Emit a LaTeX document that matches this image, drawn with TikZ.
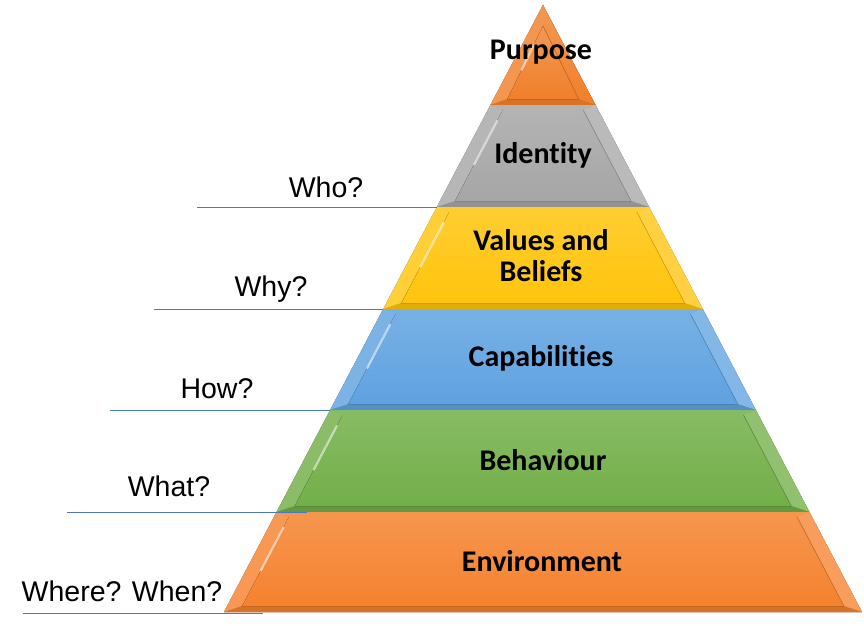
\documentclass[tikz,border=0pt]{standalone}
\usepackage{fontspec}
\setmainfont{Liberation Sans}
\newfontfamily\levelfont[Ligatures=NoCommon]{Carlito}
\usetikzlibrary{calc}
\definecolor{purposeorange}{HTML}{F07F2A}
\definecolor{identitygray}{HTML}{A6A6A6}
\definecolor{valuesyellow}{HTML}{FFC40C}
\definecolor{capblue}{HTML}{5FA2E0}
\definecolor{behavgreen}{HTML}{72AF48}
\definecolor{envorange}{HTML}{F5822E}
\definecolor{lineblue}{HTML}{4A78C2}

\begin{document}
\begin{tikzpicture}[
  x=1pt, y=-1pt,
  level/.style={font=\levelfont\bfseries\fontsize{30}{31}\selectfont, align=center},
  ask/.style={font=\fontsize{28.5}{30}\selectfont},
  guide/.style={draw=lineblue, line width=0.9pt},
  shine/.style={draw=white, line width=2pt, opacity=0.6, line cap=round},
]
\useasboundingbox (0,0) rectangle (864,625);
\def\slope{0.5255}

% apex: Purpose
\coordinate (apex) at (543,5);
\coordinate (L0) at ({543-\slope*100},105);
\coordinate (R0) at ({543+\slope*100},105);
\coordinate (pin) at (543,26);
\coordinate (pinL) at ({543-\slope*100+17},99);
\coordinate (pinR) at ({543+\slope*100-17},99);
\fill[top color=purposeorange!80!white, bottom color=purposeorange] (apex) -- (R0) -- (L0) -- cycle;
\fill[purposeorange!82!white] (apex) -- (L0) -- (pinL) -- (pin) -- cycle;
\fill[purposeorange!90!black] (L0) -- (R0) -- (pinR) -- (pinL) -- cycle;
\fill[top color=purposeorange!80!white, bottom color=purposeorange] (pin) -- (pinR) -- (pinL) -- cycle;
\draw[purposeorange!85!black, line width=0.6pt] (pin) -- (pinR);
\draw[shine] ($(pin)!0.25!(pinL)$) -- ($(pin)!0.6!(pinL)$);

% trapezoid layers, each with a bevel
\foreach \ya/\yb/\col [count=\i] in {105/207/identitygray, 207/309/valuesyellow,
    309/410/capblue, 410/512/behavgreen, 512/612/envorange}{
  \pgfmathsetmacro\wa{\slope*(\ya-5)}
  \pgfmathsetmacro\wb{\slope*(\yb-5)}
  \pgfmathsetmacro\ia{\slope*(\ya-5+5)-15}
  \pgfmathsetmacro\ib{\slope*(\yb-5-6)-15}
  \coordinate (L\i) at ({543-\wb},\yb);
  \coordinate (R\i) at ({543+\wb},\yb);
  \fill[top color=\col!85!white, bottom color=\col]
    ({543-\wa},\ya) -- ({543+\wa},\ya) -- (R\i) -- (L\i) -- cycle;
  % left, right, bottom bevel faces
  \fill[\col!82!white] ({543-\wa},\ya) -- (L\i) -- ({543-\ib},\yb-6) -- ({543-\ia},\ya+5) -- cycle;
  \fill[\col!78!white] ({543+\wa},\ya) -- ({543+\ia},\ya+5) -- ({543+\ib},\yb-6) -- (R\i) -- cycle;
  \fill[\col!88!black] (L\i) -- (R\i) -- ({543+\ib},\yb-6) -- ({543-\ib},\yb-6) -- cycle;
  \fill[top color=\col!85!white, bottom color=\col]
    ({543-\ia},\ya+5) -- ({543+\ia},\ya+5) -- ({543+\ib},\yb-6) -- ({543-\ib},\yb-6) -- cycle;
  \draw[\col!85!black, line width=0.6pt] ({543+\ia},\ya+5) -- ({543+\ib},\yb-6);
  \draw[shine] ($({543-\ia},\ya+5)!0.12!({543-\ib},\yb-6)$) -- ($({543-\ia},\ya+5)!0.6!({543-\ib},\yb-6)$);
}

% level names
\node[level] (purpose) at (541,52) {Purpose};
\node[level] (identity) at (543,155) {Identity};
\node[level] (values) at (541,256) {Values and\\Beliefs};
\node[level] (capab) at (541,358) {Capabilities};
\node[level] (behav) at (543,460) {Behaviour};
\node[level] (envir) at (542,561) {Environment};

% questions and their lines
\node[ask] (who) at (326,187) {Who?};
\node[ask] (why) at (271,289) {Why?};
\node[ask] (how) at (217,389) {How?};
\node[ask] (what) at (169,486) {What?};
\node[ask] (where) at (122,591) {Where? When?};

\coordinate (whoS) at (197,207);
\coordinate (whyS) at (154,309);
\coordinate (howS) at (110,410);
\coordinate (whatS) at (67,512);
\coordinate (whatE) at (307,512);
\coordinate (whereS) at (23,613);
\coordinate (whereE) at (263,613);
\draw[guide] (whoS) -- (L1);
\draw[guide] (whyS) -- (L2);
\draw[guide] (howS) -- (L3);
\draw[guide] (whatS) -- (whatE);
\draw[guide] (whereS) -- (whereE);
\end{tikzpicture}
\end{document}
